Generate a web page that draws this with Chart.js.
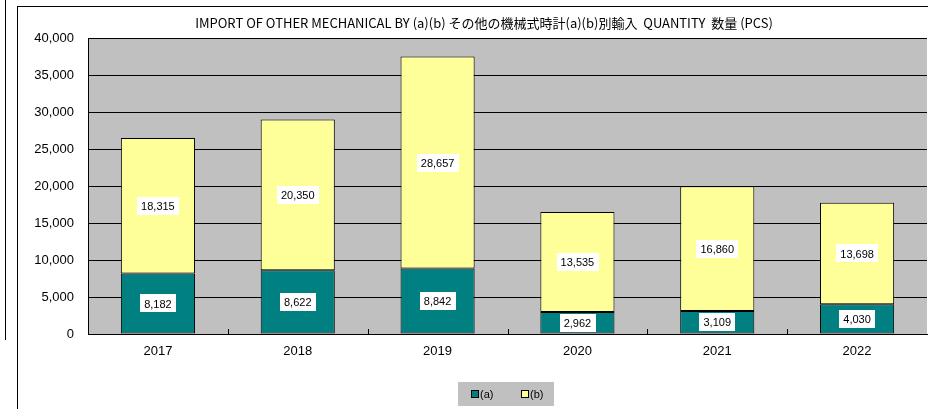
<!DOCTYPE html>
<html>
<head>
<meta charset="utf-8">
<script src="https://cdn.jsdelivr.net/npm/chart.js@4"></script>
<style>
  body { margin: 0; background: #fff; width: 929px; height: 409px; overflow: hidden; position: relative; }
  #leftLine { position: absolute; left: 5px; top: 0; width: 1px; height: 340px; background: #000; }
  #marco { position: absolute; left: 17px; top: 6px; width: 910px; height: 403px; border-left: 1px solid #000; border-top: 1px solid #000; }
  canvas { display: block; }
</style>
</head>
<body>
<div id="leftLine"></div>
<div id="marco"><canvas id="grafico" width="910" height="403"></canvas></div>
<script>
const anios = ['2017', '2018', '2019', '2020', '2021', '2022'];
const serieA = [8182, 8622, 8842, 2962, 3109, 4030];
const serieB = [18315, 20350, 28657, 13535, 16860, 13698];
const nombresSeries = ['(a)', '(b)'];
const titulo = 'IMPORT OF OTHER MECHANICAL BY (a)(b) その他の機械式時計(a)(b)別輸入  QUANTITY  数量 (PCS)';

const colorA = '#008080';
const colorB = '#ffff99';
const fuente = '"Liberation Sans", Arial, sans-serif';

const fondoPlot = {
    id: 'fondoPlot',
    beforeDraw(chart) {
        const { ctx, chartArea: a } = chart;
        ctx.save();
        ctx.fillStyle = '#c0c0c0';
        ctx.fillRect(a.left, a.top, a.right - a.left, a.bottom - a.top);
        ctx.restore();
    }
};

const extras = {
    id: 'extras',
    afterDatasetsDraw(chart) {
        const ctx = chart.ctx;
        const a = chart.chartArea;
        ctx.save();
        // marcas del eje x
        ctx.strokeStyle = '#000';
        ctx.lineWidth = 1;
        const paso = (a.right - a.left) / anios.length;
        for (let i = 1; i < anios.length; i++) {
            const x = Math.round(a.left + i * paso) + 0.5;
            ctx.beginPath();
            ctx.moveTo(x, a.bottom);
            ctx.lineTo(x, a.bottom - 5);
            ctx.stroke();
        }
        // etiquetas de valores
        ctx.font = '11px ' + fuente;
        ctx.textAlign = 'center';
        ctx.textBaseline = 'middle';
        chart.data.datasets.forEach((ds, i) => {
            chart.getDatasetMeta(i).data.forEach((bar, j) => {
                const texto = ds.data[j].toLocaleString('en-US');
                const cy = (bar.y + bar.base) / 2;
                const w = ctx.measureText(texto).width + 8;
                ctx.fillStyle = '#fff';
                ctx.fillRect(Math.round(bar.x - w / 2), Math.round(cy - 9), Math.round(w), 18);
                ctx.fillStyle = '#000';
                ctx.fillText(texto, bar.x, cy + 1);
            });
        });
        // titulo
        ctx.font = '13px "Noto Sans CJK JP", ' + fuente;
        ctx.fillText(titulo, 466, 16);
        // leyenda
        ctx.fillStyle = '#c0c0c0';
        ctx.fillRect(440, 375, 96, 24);
        ctx.font = '11px ' + fuente;
        ctx.textAlign = 'left';
        const colores = [colorA, colorB];
        const xs = [454, 504];
        nombresSeries.forEach((n, i) => {
            ctx.fillStyle = colores[i];
            ctx.fillRect(xs[i], 384, 6, 6);
            ctx.strokeStyle = '#000';
            ctx.strokeRect(xs[i] - 0.5, 383.5, 7, 7);
            ctx.fillStyle = '#000';
            ctx.fillText(n, xs[i] + 8, 388);
        });
        ctx.restore();
    }
};

new Chart(document.getElementById('grafico'), {
    type: 'bar',
    data: {
        labels: anios,
        datasets: [
            { label: nombresSeries[0], data: serieA, backgroundColor: colorA, borderColor: '#000', borderWidth: 1, borderSkipped: false },
            { label: nombresSeries[1], data: serieB, backgroundColor: colorB, borderColor: '#000', borderWidth: 1, borderSkipped: false }
        ]
    },
    options: {
        responsive: false,
        animation: false,
        layout: { padding: { top: 31, right: 1, bottom: 36, left: 0 } },
        datasets: { bar: { categoryPercentage: 1, barPercentage: 0.53 } },
        plugins: { legend: { display: false }, title: { display: false }, tooltip: { enabled: false } },
        scales: {
            x: {
                stacked: true,
                grid: { display: false, drawTicks: false },
                border: { color: '#000', width: 1 },
                ticks: { color: '#000', font: { family: fuente, size: 13 }, padding: 10 },
                afterFit(s) { s.height = 40; }
            },
            y: {
                stacked: true,
                min: 0,
                max: 40000,
                grid: { color: '#000', lineWidth: 1, drawTicks: false },
                border: { color: '#000', width: 1 },
                ticks: {
                    stepSize: 5000,
                    color: '#000',
                    padding: 14,
                    font: { family: fuente, size: 13 },
                    callback: v => v.toLocaleString('en-US')
                },
                afterFit(s) { s.width = 70; }
            }
        }
    },
    plugins: [fondoPlot, extras]
});
</script>
</body>
</html>
